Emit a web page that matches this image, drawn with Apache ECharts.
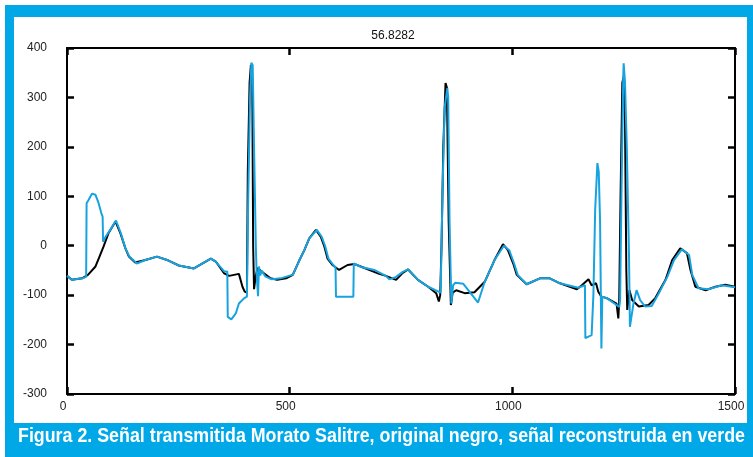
<!DOCTYPE html>
<html>
<head>
<meta charset="utf-8">
<script src="https://cdn.jsdelivr.net/npm/echarts@6/dist/echarts.min.js"></script>
<style>
html,body{margin:0;padding:0;background:#fff;}
#wrap{position:relative;width:753px;height:457px;overflow:hidden;background:#fff;}
#frame{position:absolute;left:5px;top:5px;width:748px;height:452px;background:#00a8e8;}
#inner{position:absolute;left:14px;top:17px;width:733px;height:406px;background:#fff;}
#chart{position:absolute;left:0;top:0;width:753px;height:457px;}
</style>
</head>
<body>
<div id="wrap"><div id="frame"></div><div id="inner"></div><div id="chart"></div></div>
<script>
// Title and caption
var titleText = '56.8282';
var captionText = 'Figura 2. Señal transmitida Morato Salitre, original negro, señal reconstruida en verde';

// Axis ticks
var xTicks = [0, 500, 1000, 1500];
var yTicks = [-300, -200, -100, 0, 100, 200, 300, 400];

// Original signal (black): sample index and amplitude
var origX = [0,11,34,47,64,73,82,93,109,120,131,139,153,176,202,228,251,285,323,334,353,364,386,394,399,404,406,410,413,416,418,420,424,428,431,437,457,472,492,507,522,533,544,559,570,578,585,596,611,630,645,671,701,716,739,754,766,788,811,829,835,838,841,845,850,853,857,862,866,874,893,915,938,960,979,990,1002,1010,1032,1062,1084,1107,1145,1156,1171,1178,1188,1193,1200,1212,1234,1238,1240,1243,1247,1250,1253,1256,1258,1263,1269,1284,1306,1321,1344,1359,1377,1392,1400,1411,1434,1456,1478,1500];
var origY = [-61,-69,-66,-59,-42,-22,-2,25,49,25,-5,-22,-34,-29,-22,-30,-40,-46,-26,-32,-56,-61,-57,-83,-93,-95,150,330,366,340,0,-88,-60,-45,-45,-52,-66,-69,-66,-59,-29,-9,15,32,18,-2,-26,-39,-49,-39,-37,-46,-57,-61,-69,-55,-48,-69,-83,-96,-113,-100,0,200,329,320,50,-120,-95,-90,-96,-94,-73,-29,3,-9,-36,-59,-78,-66,-66,-76,-88,-80,-68,-80,-76,-93,-103,-106,-117,-147,-110,100,330,342,250,-50,-130,-90,-110,-123,-120,-106,-69,-29,-5,-15,-49,-83,-90,-83,-79,-83];

// Reconstructed signal (blue): sample index and amplitude
var recX = [0,11,34,43,44,48,56,64,71,77,80,81,86,97,110,121,131,140,157,176,202,228,251,285,323,334,353,360,361,369,379,386,398,404,407,411,414,417,420,424,426,429,431,434,437,445,460,480,502,507,522,533,544,561,572,580,587,598,603,604,643,644,660,690,716,724,739,754,766,788,811,839,843,848,854,856,859,863,867,872,890,923,938,960,981,993,1004,1012,1032,1062,1084,1107,1148,1163,1164,1178,1182,1186,1191,1194,1197,1200,1202,1212,1234,1240,1242,1245,1249,1250,1253,1257,1262,1264,1272,1279,1287,1298,1313,1329,1348,1363,1381,1397,1404,1418,1440,1470,1500];
var recY = [-61,-69,-66,-63,86,92,105,103,86,66,59,8,17,32,51,25,-5,-22,-36,-29,-22,-30,-40,-46,-26,-32,-52,-52,-144,-149,-137,-117,-106,-103,100,300,370,365,200,0,-60,-102,-42,-60,-50,-62,-68,-66,-60,-59,-29,-9,15,32,18,-2,-26,-39,-44,-103,-103,-36,-43,-49,-61,-68,-63,-53,-48,-69,-83,-95,100,280,319,300,50,-117,-80,-75,-77,-115,-73,-29,0,-9,-36,-59,-78,-66,-66,-76,-85,-80,-187,-181,-100,72,167,150,50,-208,-103,-106,-120,-124,-110,100,340,369,330,200,-20,-164,-117,-90,-110,-123,-122,-96,-63,-29,-7,-19,-59,-86,-88,-80,-84];

function pairs(xs, ys){ var o=[]; for(var i=0;i<xs.length;i++){ o.push([xs[i], ys[i]]); } return o; }

var chart = echarts.init(document.getElementById('chart'), null, {renderer:'canvas'});

// caption horizontal condensation to fit the band width
var capFont = 'bold 21px "Liberation Sans Narrow", "Liberation Sans", Arial, sans-serif';
var cv = document.createElement('canvas').getContext('2d');
cv.font = capFont;
var capW = cv.measureText(captionText).width;
var capScale = Math.min(1, 727 / capW);

var fontFam = '"Liberation Sans", Arial, sans-serif';
function axisCommon(){
  return {
    axisLine:{show:true, onZero:false, lineStyle:{color:'#000', width:2}},
    axisTick:{show:true, inside:true, length:7, lineStyle:{color:'#000', width:2.5}},
    splitLine:{show:false}
  };
}
function plain(v){ return String(v); }

chart.setOption({
  animation:false,
  backgroundColor:'transparent',
  title:{text:titleText, left:388, top:25, textAlign:'center',
    textStyle:{fontFamily:fontFam, fontSize:12, fontWeight:'normal', color:'#111'}},
  grid:{left:67, right:18, top:48, bottom:63, show:false},
  xAxis:[
    Object.assign({type:'value', min:xTicks[0], max:xTicks[xTicks.length-1], interval:500, position:'bottom',
      axisLabel:{show:true, margin:7, color:'#222', fontFamily:fontFam, fontSize:12, formatter:plain, padding:[0,8,0,0]}}, axisCommon()),
    Object.assign({type:'value', min:xTicks[0], max:xTicks[xTicks.length-1], interval:500, position:'top',
      axisLabel:{show:false}}, axisCommon())
  ],
  yAxis:[
    Object.assign({type:'value', min:yTicks[0], max:yTicks[yTicks.length-1], interval:100, position:'left',
      axisLabel:{show:true, margin:20, color:'#222', fontFamily:fontFam, fontSize:12, formatter:plain}}, axisCommon()),
    Object.assign({type:'value', min:yTicks[0], max:yTicks[yTicks.length-1], interval:100, position:'right',
      axisLabel:{show:false}}, axisCommon())
  ],
  series:[
    {type:'line', name:'original', data:pairs(origX, origY), showSymbol:false, symbol:'none',
      lineStyle:{color:'#000', width:2}, z:2},
    {type:'line', name:'reconstruida', data:pairs(recX, recY), showSymbol:false, symbol:'none',
      lineStyle:{color:'#17a3e0', width:2}, z:3}
  ],
  graphic:[
    {type:'text', left:18, top:426, scaleX:capScale, originX:0,
      style:{text:captionText, font:capFont, fill:'#fff'}}
  ]
});
</script>
</body>
</html>
